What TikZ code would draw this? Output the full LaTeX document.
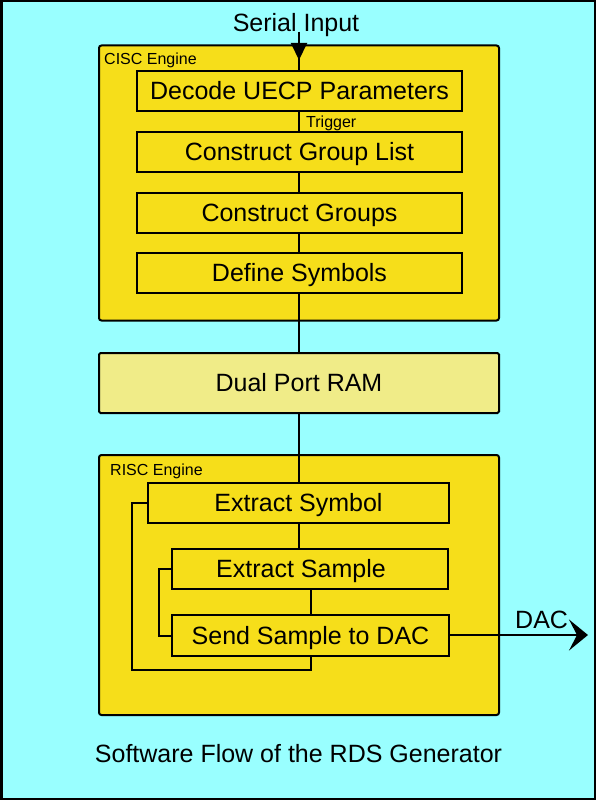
\documentclass[tikz,border=0pt]{standalone}
\usepackage{fontspec}
\setmainfont{Liberation Sans}
\usetikzlibrary{arrows.meta}
\definecolor{bgcyan}{RGB}{153,255,255}
\definecolor{engyellow}{RGB}{246,222,26}
\definecolor{ramyellow}{RGB}{240,236,136}

\begin{document}
\begin{tikzpicture}[x=1pt, y=-1pt,
    enginebox/.style={draw, line width=2pt, fill=engyellow, rounded corners=2.5pt, inner sep=0pt},
    procbox/.style={draw, line width=2pt, fill=engyellow, inner sep=0pt, minimum height=40pt,
      text height=17.9pt, text depth=0pt, font=\fontsize{25}{30}\selectfont},
    bigtext/.style={inner sep=0pt, anchor=base, font=\fontsize{25}{30}\selectfont},
    smalltext/.style={inner sep=0pt, anchor=base west, font=\fontsize{16}{19}\selectfont},
    flow/.style={line width=2pt}]
  \useasboundingbox (0,0) rectangle (596,800);
  \draw[line width=2.5pt, fill=bgcyan] (1.25,1.25) rectangle (594.75,798.75);

  \node[bigtext] (serial) at (296,32) {Serial Input};

  \node[enginebox, minimum width=400pt, minimum height=275pt] (cisc) at (299,183) {};
  \node[smalltext] (cisclabel) at (104,64) {CISC Engine};
  \node[procbox, minimum width=325pt] (decode) at (299.5,91) {Decode UECP Parameters};
  \node[procbox, minimum width=325pt] (grouplist) at (299.5,152) {Construct Group List};
  \node[procbox, minimum width=325pt] (groups) at (299.5,213) {Construct Groups};
  \node[procbox, minimum width=325pt] (defsym) at (299.5,273) {Define Symbols};
  \node[smalltext] (trigger) at (306,127) {Trigger};

  \node[procbox, fill=ramyellow, rounded corners=1.5pt, minimum width=400pt, minimum height=60pt] (ram) at (299,383) {Dual Port RAM};

  \node[enginebox, minimum width=400pt, minimum height=260pt] (risc) at (299,585) {};
  \node[smalltext] (risclabel) at (110,475) {RISC Engine};
  \node[procbox, minimum width=301pt] (xsymbol) at (298.5,503) {Extract Symbol};
  \node[procbox, minimum width=276pt, label={[bigtext, anchor=center, text height=17.9pt, text depth=0pt, xshift=-9pt]center:Extract Sample}] (xsample) at (310,569) {};
  \node[procbox, minimum width=277pt, minimum height=41pt] (send) at (310.5,635.5) {Send Sample to DAC};

  \node[bigtext, anchor=base west] (dac) at (515,628) {DAC};
  \node[bigtext] (caption) at (298.5,762) {Software Flow of the RDS Generator};

  \coordinate (intop) at (299,32);
  \coordinate (intip) at (299,60);
  \coordinate (dacend) at (588,635);

  \draw[flow] (intop) -- (intop |- decode.north);
  \draw[flow, -{Triangle[length=17pt, width=16pt]}] (intop) -- (intip);
  \draw[flow] (intop |- decode.south) -- (intop |- grouplist.north);
  \draw[flow] (intop |- grouplist.south) -- (intop |- groups.north);
  \draw[flow] (intop |- groups.south) -- (intop |- defsym.north);
  \draw[flow] (intop |- defsym.south) -- (intop |- ram.north);
  \draw[flow] (intop |- ram.south) -- (intop |- xsymbol.north);
  \draw[flow] (intop |- xsymbol.south) -- (intop |- xsample.north);
  \draw[flow] (311,0 |- xsample.south) -- (311,0 |- send.north);
  \draw[flow] (xsample.west) -- ++(-12,0) |- (send.west);
  \draw[flow] (xsymbol.west) -- ++(-15,0) |- ([yshift=-13pt]311,0 |- send.south) -- (311,0 |- send.south);
  \draw[flow, -{Stealth[length=19pt, width=31pt, inset=8pt]}] (send.east |- dacend) -- (dacend);
\end{tikzpicture}
\end{document}
